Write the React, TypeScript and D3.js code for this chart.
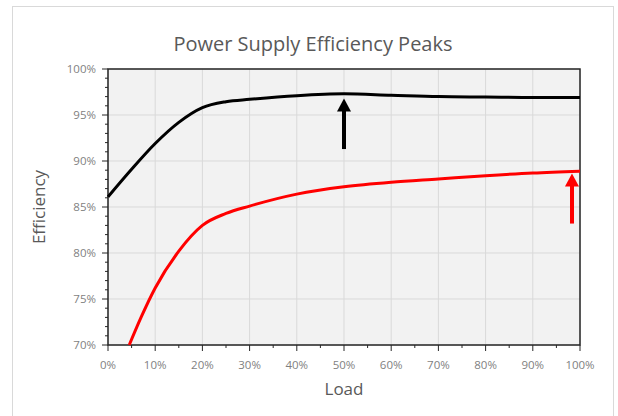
import React from 'react';
import * as d3 from 'd3';

// load (%) vs efficiency (%)
const blackLoad = [0, 5, 10, 15, 20, 25, 30, 40, 50, 60, 70, 80, 90, 100];
const blackEff = [86.1, 89.1, 91.9, 94.2, 95.8, 96.45, 96.7, 97.1, 97.3, 97.15, 97.0, 96.95, 96.9, 96.9];
const redLoad = [4.5, 7, 10, 15, 20, 25, 30, 40, 50, 60, 70, 80, 90, 100];
const redEff = [70, 73, 76.2, 80.2, 83, 84.3, 85.1, 86.4, 87.2, 87.7, 88.05, 88.4, 88.7, 88.9];

// peak markers: [load, from, to]
const blackArrow = [50, 91.3, 96.8];
const redArrow = [98.3, 83.2, 88.65];

const xTicks = [0, 10, 20, 30, 40, 50, 60, 70, 80, 90, 100];
const yTicks = [70, 75, 80, 85, 90, 95, 100];

export default function App() {
    const width = 618;
    const height = 416;
    const margin = { top: 69, right: 38, bottom: 71, left: 108 };
    const boundedWidth = width - margin.left - margin.right;
    const boundedHeight = height - margin.top - margin.bottom;

    const xScale = d3.scaleLinear().domain([0, 100]).range([0, boundedWidth]);
    const yScale = d3.scaleLinear().domain([70, 100]).range([boundedHeight, 0]);

    const line = d3.line<number[]>()
        .x(d => xScale(d[0]))
        .y(d => yScale(d[1]))
        .curve(d3.curveMonotoneX);

    const blackPath = line(blackLoad.map((l, i) => [l, blackEff[i]]));
    const redPath = line(redLoad.map((l, i) => [l, redEff[i]]));

    const minorX = d3.range(0, 101, 5);
    const minorY = d3.range(70, 101, 1);

    const font = "'Open Sans', 'Noto Sans', sans-serif";

    const arrow = (a: number[], color: string) => {
        const x = xScale(a[0]);
        const y1 = yScale(a[1]);
        const y2 = yScale(a[2]);
        const head = 13;
        return (
            <g>
                <line x1={x} y1={y1} x2={x} y2={y2 + head - 1} stroke={color} strokeWidth={4} />
                <path d={`M${x},${y2} L${x - 7},${y2 + head} L${x + 7},${y2 + head} Z`} fill={color} />
            </g>
        );
    };

    return (
        <svg width={width} height={height} style={{ position: 'absolute', left: 0, top: 0 }}>
            <rect x={0} y={0} width={width} height={height} fill="#fff" />
            <rect x={12.5} y={6.5} width={601} height={420} fill="#fff" stroke="#d9d9d9" strokeWidth={1} />
            <text x={313} y={51} textAnchor="middle" fontFamily={font} fontSize={20} fill="#595959">
                Power Supply Efficiency Peaks
            </text>
            <g transform={`translate(${margin.left}, ${margin.top})`}>
                <rect x={0} y={0} width={boundedWidth} height={boundedHeight} fill="#f2f2f2" />
                {/* grid */}
                {xTicks.map(t => (
                    <line key={'gx' + t} x1={xScale(t)} x2={xScale(t)} y1={0} y2={boundedHeight} stroke="#d9d9d9" strokeWidth={1} />
                ))}
                {yTicks.map(t => (
                    <line key={'gy' + t} x1={0} x2={boundedWidth} y1={yScale(t)} y2={yScale(t)} stroke="#d9d9d9" strokeWidth={1} />
                ))}
                {/* frame */}
                <rect x={0} y={0} width={boundedWidth} height={boundedHeight} fill="none" stroke="#262626" strokeWidth={1.5} />
                {/* y axis ticks */}
                {minorY.map(t => (
                    <line key={'my' + t} x1={t % 5 === 0 ? -6 : -3} x2={0} y1={yScale(t)} y2={yScale(t)} stroke="#262626" strokeWidth={1} />
                ))}
                {yTicks.map(t => (
                    <text key={'ly' + t} x={-12} y={yScale(t)} dy="0.35em" textAnchor="end" fontFamily={font} fontSize={11.5} fill="#7f7f7f">
                        {t}%
                    </text>
                ))}
                {/* x axis ticks */}
                {minorX.map(t => (
                    <line key={'mx' + t} x1={xScale(t)} x2={xScale(t)} y1={boundedHeight} y2={boundedHeight + (t % 10 === 0 ? 6 : 3)} stroke="#262626" strokeWidth={1} />
                ))}
                {xTicks.map(t => (
                    <text key={'lx' + t} x={xScale(t)} y={boundedHeight + 24} textAnchor="middle" fontFamily={font} fontSize={11.5} fill="#7f7f7f">
                        {t}%
                    </text>
                ))}
                {/* series */}
                <path d={blackPath || ''} fill="none" stroke="#000" strokeWidth={3} strokeLinejoin="round" />
                <path d={redPath || ''} fill="none" stroke="#ff0000" strokeWidth={3} strokeLinejoin="round" />
                {arrow(blackArrow, '#000')}
                {arrow(redArrow, '#ff0000')}
            </g>
            <text x={margin.left + boundedWidth / 2} y={395} textAnchor="middle" fontFamily={font} fontSize={17} fill="#595959">
                Load
            </text>
            <text transform={`translate(45, ${margin.top + boundedHeight / 2}) rotate(-90)`} textAnchor="middle" fontFamily={font} fontSize={17} fill="#595959">
                Efficiency
            </text>
        </svg>
    );
}
